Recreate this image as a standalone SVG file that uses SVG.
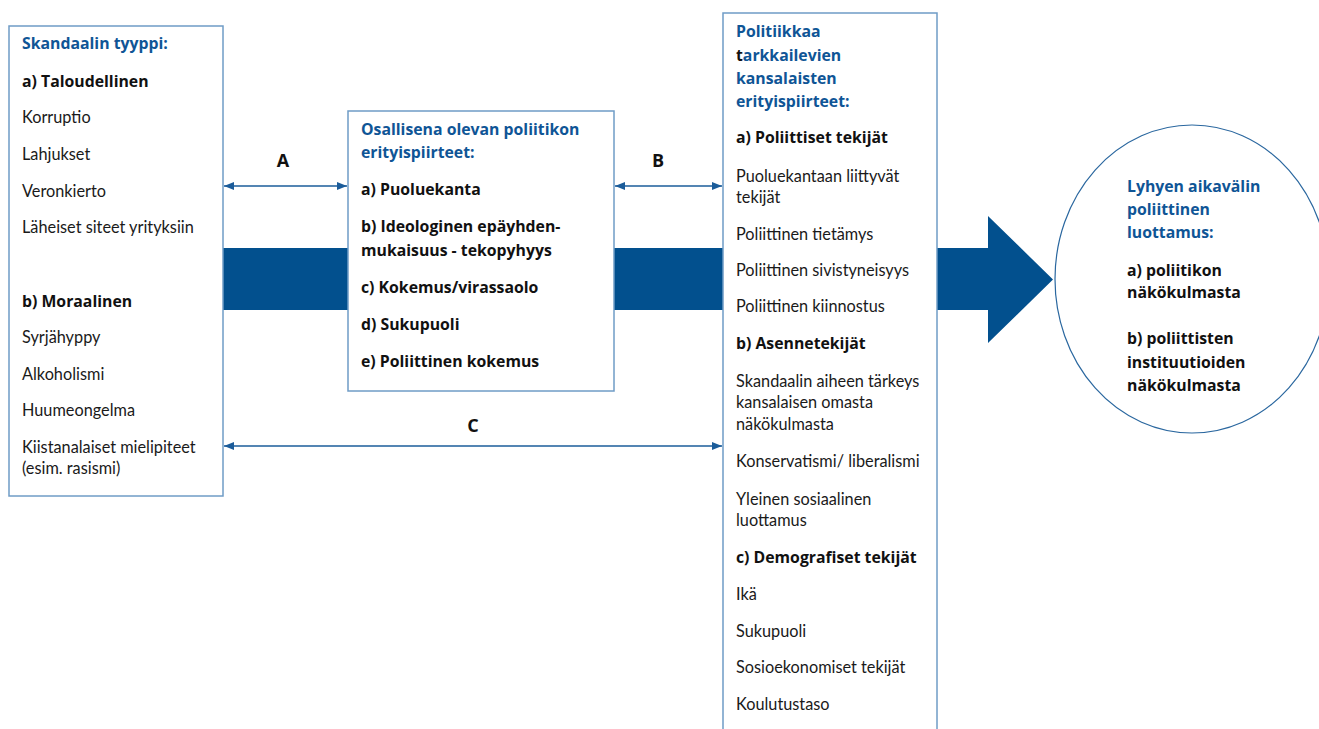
<svg xmlns="http://www.w3.org/2000/svg" width="1319" height="729" viewBox="0 0 1319 729">
<defs>
<style>
text{font-family:Lato,"Open Sans","Liberation Sans",sans-serif;font-size:16.3px;fill:#1a1a1a}
.h{font-family:"Open Sans",Lato,sans-serif;font-size:15.8px;font-weight:bold;fill:#0f5596}
.b{font-family:"Open Sans",Lato,sans-serif;font-size:15.8px;font-weight:bold;fill:#111}
.lbl{font-family:"Open Sans",Lato,sans-serif;font-weight:bold;font-size:18px;fill:#111;text-anchor:middle}
.box{fill:#fff;stroke:#6f9cc6;stroke-width:1.5}
.conn{stroke:#1b5c9a;stroke-width:1.5;fill:none}
</style>
<marker id="ah" viewBox="0 0 10 10" refX="10" refY="5" markerWidth="10" markerHeight="10" markerUnits="userSpaceOnUse" orient="auto-start-reverse">
<path d="M0,1 L10,5 L0,9 Z" fill="#1b5c9a"/>
</marker>
</defs>
<rect width="1319" height="729" fill="#fff"/>
<g id="big-arrow">
<path d="M223,248 L988,248 L988,216 L1053,279.5 L988,343 L988,310 L223,310 Z" fill="#02508e"/>
</g>
<g id="connectors">
<line class="conn" x1="224" y1="186" x2="347" y2="186" marker-start="url(#ah)" marker-end="url(#ah)"/>
<line class="conn" x1="615" y1="186" x2="722" y2="186" marker-start="url(#ah)" marker-end="url(#ah)"/>
<line class="conn" x1="224" y1="446" x2="722" y2="446" marker-start="url(#ah)" marker-end="url(#ah)"/>
<text class="lbl" x="283" y="167">A</text>
<text class="lbl" x="658" y="167">B</text>
<text class="lbl" x="473" y="432">C</text>
</g>
<g id="scandal-type">
<rect class="box" x="9" y="26" width="214" height="470"/>
<text class="h" x="22" y="49">Skandaalin tyyppi:</text>
<text class="b" x="22" y="87">a) Taloudellinen</text>
<text x="22" y="123">Korruptio</text>
<text x="22" y="160">Lahjukset</text>
<text x="22" y="197">Veronkierto</text>
<text x="22" y="233">Läheiset siteet yrityksiin</text>
<text class="b" x="22" y="307">b) Moraalinen</text>
<text x="22" y="343">Syrjähyppy</text>
<text x="22" y="380">Alkoholismi</text>
<text x="22" y="416">Huumeongelma</text>
<text x="22" y="453">Kiistanalaiset mielipiteet</text>
<text x="22" y="474">(esim. rasismi)</text>
</g>
<g id="politician">
<rect class="box" x="348" y="111" width="266" height="280"/>
<text class="h" x="361" y="135">Osallisena olevan poliitikon</text>
<text class="h" x="361" y="158">erityispiirteet:</text>
<text class="b" x="361" y="195">a) Puoluekanta</text>
<text class="b" x="361" y="232">b) Ideologinen epäyhden-</text>
<text class="b" x="361" y="256">mukaisuus - tekopyhyys</text>
<text class="b" x="361" y="293">c) Kokemus/virassaolo</text>
<text class="b" x="361" y="330">d) Sukupuoli</text>
<text class="b" x="361" y="367">e) Poliittinen kokemus</text>
</g>
<g id="citizens">
<rect class="box" x="723" y="13" width="214" height="730"/>
<text class="h" x="736" y="37">Politiikkaa</text>
<text class="h" x="736" y="61"><tspan fill="#111">t</tspan>arkkailevien</text>
<text class="h" x="736" y="84">kansalaisten</text>
<text class="h" x="736" y="107">erityispiirteet:</text>
<text class="b" x="736" y="143">a) Poliittiset tekijät</text>
<text x="736" y="182">Puoluekantaan liittyvät</text>
<text x="736" y="203">tekijät</text>
<text x="736" y="240">Poliittinen tietämys</text>
<text x="736" y="276">Poliittinen sivistyneisyys</text>
<text x="736" y="312">Poliittinen kiinnostus</text>
<text class="b" x="736" y="349">b) Asennetekijät</text>
<text x="736" y="387">Skandaalin aiheen tärkeys</text>
<text x="736" y="408">kansalaisen omasta</text>
<text x="736" y="430">näkökulmasta</text>
<text x="736" y="467">Konservatismi/ liberalismi</text>
<text x="736" y="505">Yleinen sosiaalinen</text>
<text x="736" y="526">luottamus</text>
<text class="b" x="736" y="563">c) Demografiset tekijät</text>
<text x="736" y="600">Ikä</text>
<text x="736" y="637">Sukupuoli</text>
<text x="736" y="673">Sosioekonomiset tekijät</text>
<text x="736" y="710">Koulutustaso</text>
</g>
<g id="trust">
<ellipse cx="1192" cy="279" rx="137" ry="154" fill="#fff" stroke="#2a679f" stroke-width="1.2"/>
<text class="h" x="1127" y="192">Lyhyen aikavälin</text>
<text class="h" x="1127" y="215">poliittinen</text>
<text class="h" x="1127" y="238">luottamus:</text>
<text class="b" x="1127" y="276">a) poliitikon</text>
<text class="b" x="1127" y="298">näkökulmasta</text>
<text class="b" x="1127" y="344">b) poliittisten</text>
<text class="b" x="1127" y="368">instituutioiden</text>
<text class="b" x="1127" y="391">näkökulmasta</text>
</g>
</svg>
